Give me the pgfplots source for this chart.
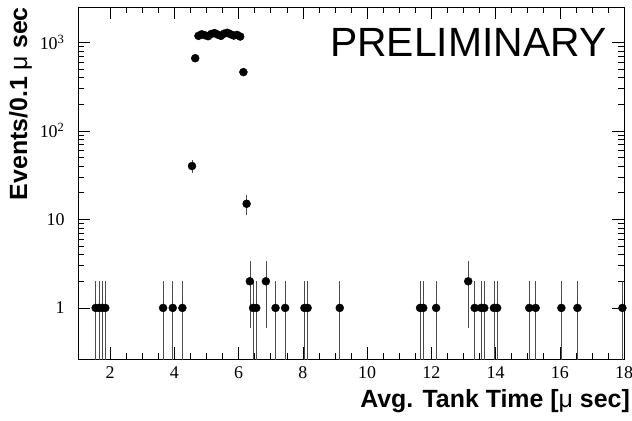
\documentclass[border=0pt]{standalone}
\usepackage{pgfplots}
\pgfplotsset{compat=1.18}
\usepackage{fontspec}
\setmainfont{Liberation Serif}
\newfontfamily\arial{Liberation Sans}
\usetikzlibrary{calc}
\begin{document}
\begin{tikzpicture}
\begin{axis}[
  name=ax,
  scale only axis,
  width=546bp, height=352bp,
  xmin=1, xmax=18,
  ymode=log, ymin=0.265, ymax=2500,
  xtick={2,4,...,18},
  minor x tick num=3,
  ytick={1,10,100,1000},
  yticklabels={1,10,10\textsuperscript{2},10\textsuperscript{3}},
  tick label style={font=\fontsize{18}{20}\selectfont},
  /pgf/number format/assume math mode=true,
  yticklabel style={xshift=-10bp},
  xticklabel style={yshift=-4bp},
  major tick length=12bp, minor tick length=6bp,
  tick style={black, line width=0.5bp},
  axis line style={line width=0.8bp},
  xlabel={\bfseries Avg. Tank Time [{\mdseries μ} sec]},
  ylabel={\bfseries Events/0.1 {\mdseries μ} sec},
  xlabel style={at={(rel axis cs:1.011,-0.085)}, anchor=north east, inner sep=0pt, font=\arial\fontsize{25}{28}\selectfont},
  ylabel style={at={(rel axis cs:-0.084,1)}, anchor=south east, inner sep=0pt, font=\arial\fontsize{25}{28}\selectfont},
]
\addplot[only marks, black, mark=*, mark size=4bp, mark options={fill=black, draw=black},
  error bars/.cd, y dir=both, y explicit, error mark=none,
  error bar style={line width=0.6bp, black!70}]
coordinates {
(1.55,1) += (0,1) -= (0,0.99)
(1.65,1) += (0,1) -= (0,0.99)
(1.75,1) += (0,1) -= (0,0.99)
(1.85,1) += (0,1) -= (0,0.99)
(3.65,1) += (0,1) -= (0,0.99)
(3.95,1) += (0,1) -= (0,0.99)
(4.25,1) += (0,1) -= (0,0.99)
(4.55,40) += (0,6.3) -= (0,6.3)
(4.65,660) += (0,25.7) -= (0,25.7)
(4.75,1180) += (0,34) -= (0,34)
(4.85,1230) += (0,35) -= (0,35)
(4.95,1200) += (0,35) -= (0,35)
(5.05,1170) += (0,34) -= (0,34)
(5.15,1240) += (0,35) -= (0,35)
(5.25,1270) += (0,36) -= (0,36)
(5.35,1220) += (0,35) -= (0,35)
(5.45,1180) += (0,34) -= (0,34)
(5.55,1250) += (0,35) -= (0,35)
(5.65,1280) += (0,36) -= (0,36)
(5.75,1230) += (0,35) -= (0,35)
(5.85,1190) += (0,34) -= (0,34)
(5.95,1210) += (0,35) -= (0,35)
(6.05,1160) += (0,34) -= (0,34)
(6.15,460) += (0,21) -= (0,21)
(6.25,15) += (0,3.9) -= (0,3.9)
(6.35,2) += (0,1.41) -= (0,1.41)
(6.45,1) += (0,1) -= (0,0.99)
(6.55,1) += (0,1) -= (0,0.99)
(6.85,2) += (0,1.41) -= (0,1.41)
(7.15,1) += (0,1) -= (0,0.99)
(7.45,1) += (0,1) -= (0,0.99)
(8.05,1) += (0,1) -= (0,0.99)
(8.15,1) += (0,1) -= (0,0.99)
(9.15,1) += (0,1) -= (0,0.99)
(11.65,1) += (0,1) -= (0,0.99)
(11.75,1) += (0,1) -= (0,0.99)
(12.15,1) += (0,1) -= (0,0.99)
(13.15,2) += (0,1.41) -= (0,1.41)
(13.35,1) += (0,1) -= (0,0.99)
(13.55,1) += (0,1) -= (0,0.99)
(13.65,1) += (0,1) -= (0,0.99)
(13.95,1) += (0,1) -= (0,0.99)
(14.05,1) += (0,1) -= (0,0.99)
(15.05,1) += (0,1) -= (0,0.99)
(15.25,1) += (0,1) -= (0,0.99)
(16.05,1) += (0,1) -= (0,0.99)
(16.55,1) += (0,1) -= (0,0.99)
(17.95,1) += (0,1) -= (0,0.99)
};
\node[anchor=base west, inner sep=0pt, font=\arial\fontsize{41}{44}\selectfont] at (rel axis cs:0.4615,0.858) {PRELIMINARY};
\end{axis}
\pgfresetboundingbox
\path (ax.south west) ++(-78bp,-62bp) rectangle ($(ax.north east)+(8bp,7bp)$);
\end{tikzpicture}
\end{document}
